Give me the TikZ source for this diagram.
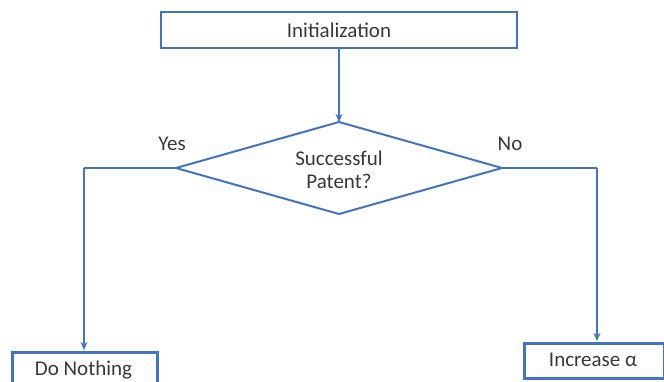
\documentclass[tikz,border=0pt]{standalone}
\usepackage{fontspec}
\setmainfont{Carlito}
\usetikzlibrary{arrows.meta}
\definecolor{obl}{HTML}{4472C4}
\begin{document}
\begin{tikzpicture}[x=1pt,y=-1pt,
  boxst/.style={draw=obl,line width=2.6pt,inner sep=0pt},
  lbl/.style={font=\fontsize{21}{24}\selectfont,text=black!78},
  con/.style={draw=obl,line width=1.6pt,-{Stealth[length=8pt,width=7pt]}},
  ln/.style={draw=obl,line width=1.6pt}]
\useasboundingbox (0,0) rectangle (664,382);
\node[boxst,minimum width=356pt,minimum height=36pt,lbl] (init) at (339,30) {Initialization};
\coordinate (dt) at (339,122);
\coordinate (dl) at (176,168);
\coordinate (dr) at (502,168);
\coordinate (db) at (339,214);
\draw[ln,line width=2pt] (dt) -- (dr) -- (db) -- (dl) -- cycle;
\node[lbl,align=center] (q) at (339,170) {Successful\\[-1pt]Patent?};
\node[boxst,minimum width=145pt,minimum height=40pt,lbl,anchor=north west] (dn) at (11,351) {};
\node[lbl] (dnt) at (83.5,370) {Do Nothing};
\node[boxst,minimum width=140pt,minimum height=35pt,lbl,anchor=north west] (inc) at (523,342) {};
\node[lbl] (inct) at (593,360) {Increase α};
\node[lbl] (yes) at (172,144) {Yes};
\node[lbl] (no) at (510,144) {No};
\draw[con] (init.south -| dt) -- (dt);
\draw[ln] (dl) -- (84,168) coordinate (cl);
\draw[con] (cl) -- (84,350) coordinate (dnin);
\draw[ln] (dr) -- (597,168) coordinate (cr);
\draw[con] (cr) -- (597,341);
\end{tikzpicture}
\end{document}
